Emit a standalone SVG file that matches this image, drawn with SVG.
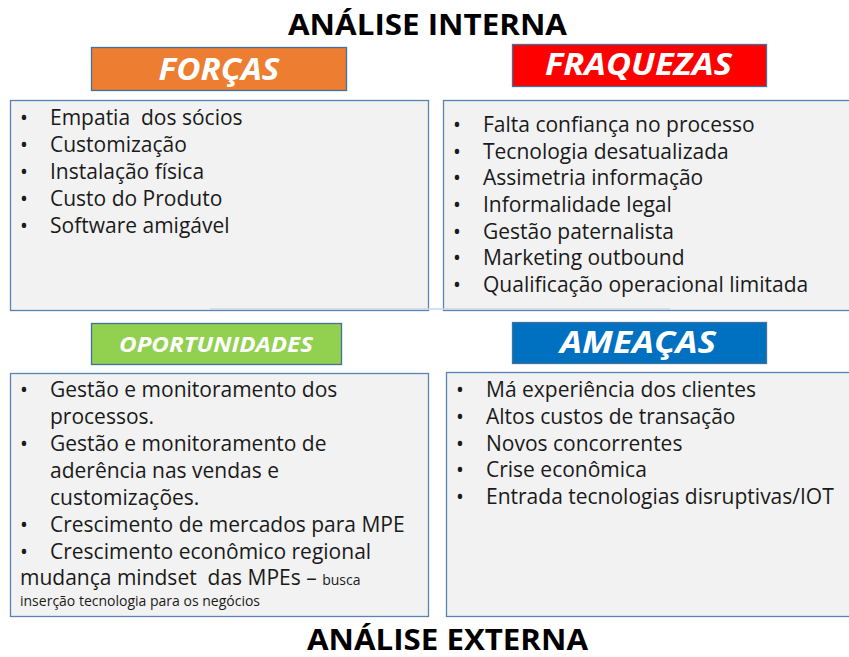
<svg xmlns="http://www.w3.org/2000/svg" width="849" height="657" viewBox="0 0 849 657">
<style>
.title{font-family:"Open Sans",Lato,"DejaVu Sans",sans-serif;font-weight:bold;font-size:29px;fill:#000}
.hdr{font-family:"Open Sans",Lato,"DejaVu Sans",sans-serif;font-weight:bold;font-style:italic;fill:#fff;text-anchor:middle}
.hbox{stroke:#41719C;stroke-width:1.3}
.cbox{fill:#F2F2F2;stroke:#5A82B4;stroke-width:1.3}
.item{font-family:"Open Sans",Lato,"DejaVu Sans",sans-serif;font-size:21px;fill:#1a1a1a}
.small{font-size:14px}
</style>
<rect width="849" height="657" fill="#fff"/>
<text class="title" x="427.5" y="35" text-anchor="middle" textLength="279" lengthAdjust="spacingAndGlyphs">ANÁLISE INTERNA</text>

<g id="forcas">
<rect class="hbox" x="91.5" y="47.5" width="255" height="43" fill="#ED7D31"/>
<text class="hdr" x="219" y="80" font-size="30" textLength="121" lengthAdjust="spacingAndGlyphs">FORÇAS</text>
<rect class="cbox" x="10.5" y="100.5" width="418" height="210"/>
<g class="item">
<text x="20" y="125">•</text><text x="50" y="125" xml:space="preserve">Empatia  dos sócios</text>
<text x="20" y="152">•</text><text x="50" y="152">Customização</text>
<text x="20" y="179">•</text><text x="50" y="179">Instalação física</text>
<text x="20" y="206">•</text><text x="50" y="206">Custo do Produto</text>
<text x="20" y="233">•</text><text x="50" y="233">Software amigável</text>
</g>
</g>

<g id="fraquezas">
<rect class="hbox" x="512.5" y="44.5" width="254" height="42" fill="#FF0000"/>
<text class="hdr" x="638.5" y="75" font-size="30" textLength="187" lengthAdjust="spacingAndGlyphs">FRAQUEZAS</text>
<rect class="cbox" x="443.5" y="100.5" width="420" height="210"/>
<g class="item">
<text x="453" y="132">•</text><text x="483" y="132">Falta confiança no processo</text>
<text x="453" y="158.7">•</text><text x="483" y="158.7">Tecnologia desatualizada</text>
<text x="453" y="185.3">•</text><text x="483" y="185.3">Assimetria informação</text>
<text x="453" y="212">•</text><text x="483" y="212">Informalidade legal</text>
<text x="453" y="238.7">•</text><text x="483" y="238.7">Gestão paternalista</text>
<text x="453" y="265.3">•</text><text x="483" y="265.3">Marketing outbound</text>
<text x="453" y="292">•</text><text x="483" y="292">Qualificação operacional limitada</text>
</g>
</g>

<line x1="210" y1="309" x2="670" y2="309" stroke="#C9D6E8" stroke-width="1.5"/>

<g id="oportunidades">
<rect class="hbox" x="91.5" y="323.5" width="250" height="41" fill="#92D050"/>
<text class="hdr" x="216" y="352" font-size="21" textLength="194" lengthAdjust="spacingAndGlyphs">OPORTUNIDADES</text>
<rect class="cbox" x="10.5" y="373.5" width="418" height="243"/>
<g class="item">
<text x="20" y="397">•</text><text x="50" y="397">Gestão e monitoramento dos</text>
<text x="50" y="424">processos.</text>
<text x="20" y="451">•</text><text x="50" y="451">Gestão e monitoramento de</text>
<text x="50" y="478">aderência nas vendas e</text>
<text x="50" y="505">customizações.</text>
<text x="20" y="532">•</text><text x="50" y="532">Crescimento de mercados para MPE</text>
<text x="20" y="559">•</text><text x="50" y="559">Crescimento econômico regional</text>
<text x="20" y="585" xml:space="preserve">mudança mindset  das MPEs – <tspan class="small">busca</tspan></text>
<text x="20" y="606" class="small">inserção tecnologia para os negócios</text>
</g>
</g>

<g id="ameacas">
<rect class="hbox" x="512.5" y="322.5" width="254" height="41" fill="#0070C0"/>
<text class="hdr" x="638" y="353" font-size="30" textLength="156" lengthAdjust="spacingAndGlyphs">AMEAÇAS</text>
<rect class="cbox" x="446.5" y="372.5" width="420" height="244"/>
<g class="item">
<text x="456" y="397">•</text><text x="486" y="397">Má experiência dos clientes</text>
<text x="456" y="424">•</text><text x="486" y="424">Altos custos de transação</text>
<text x="456" y="450.7">•</text><text x="486" y="450.7">Novos concorrentes</text>
<text x="456" y="477">•</text><text x="486" y="477">Crise econômica</text>
<text x="456" y="504">•</text><text x="486" y="504">Entrada tecnologias disruptivas/IOT</text>
</g>
</g>

<text class="title" x="447.5" y="650" text-anchor="middle" textLength="281" lengthAdjust="spacingAndGlyphs">ANÁLISE EXTERNA</text>
</svg>
